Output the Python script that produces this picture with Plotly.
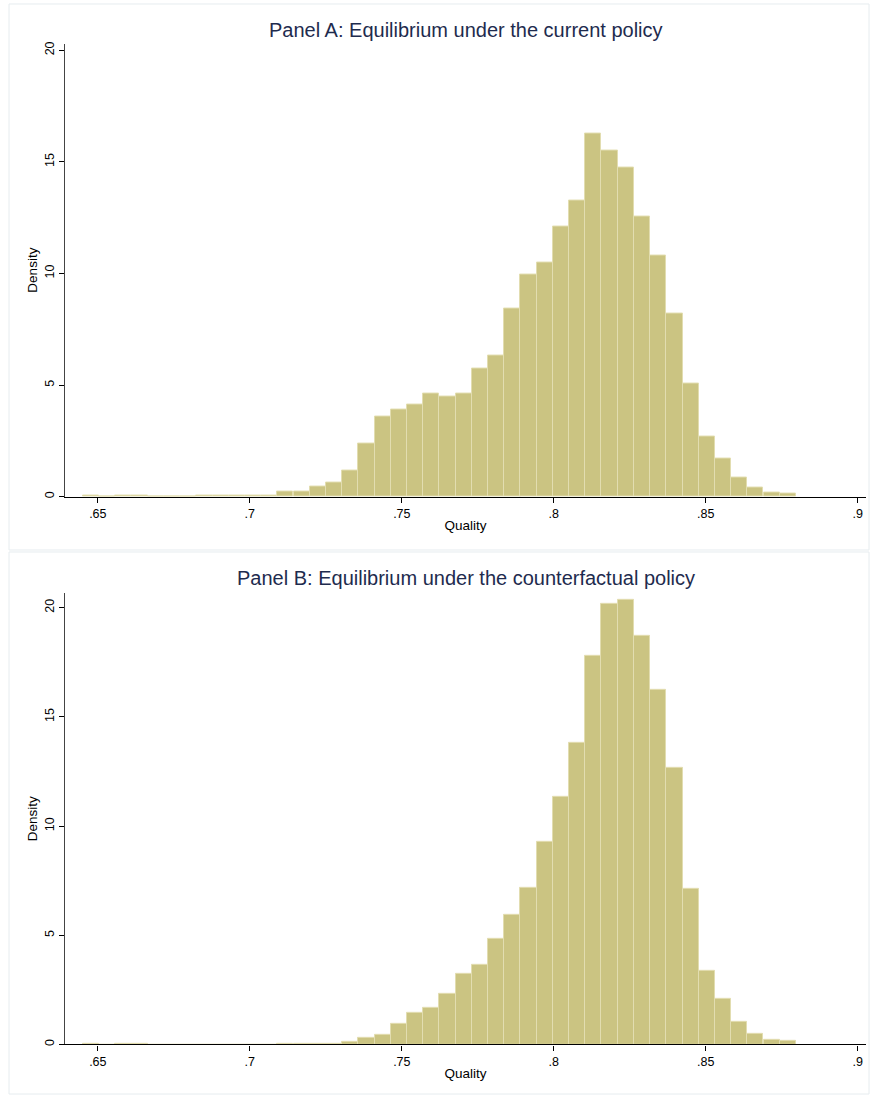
import plotly.graph_objects as go

# ---- data ----
bin_centers = [0.6478, 0.6531, 0.6584, 0.6637, 0.6691, 0.6744, 0.6797, 0.6851, 0.6904, 0.6957,
               0.7011, 0.7064, 0.7117, 0.7171, 0.7224, 0.7277, 0.7330, 0.7384, 0.7437, 0.7490,
               0.7544, 0.7597, 0.7650, 0.7704, 0.7757, 0.7810, 0.7864, 0.7917, 0.7970, 0.8023,
               0.8077, 0.8130, 0.8183, 0.8237, 0.8290, 0.8343, 0.8397, 0.8450, 0.8503, 0.8557,
               0.8610, 0.8663, 0.8717, 0.8770]
bin_width = 0.00533

density_current = [0.04, 0.0, 0.04, 0.04, 0.0, 0.0, 0.0, 0.04, 0.04, 0.05,
                   0.05, 0.05, 0.24, 0.24, 0.46, 0.64, 1.17, 2.38, 3.59, 3.89,
                   4.12, 4.64, 4.48, 4.61, 5.76, 6.34, 8.45, 9.96, 10.50, 12.10,
                   13.28, 16.26, 15.50, 14.74, 12.55, 10.81, 8.22, 5.09, 2.69, 1.71,
                   0.86, 0.40, 0.19, 0.13]

density_counterfactual = [0.03, 0.0, 0.03, 0.03, 0.0, 0.0, 0.0, 0.0, 0.0, 0.0,
                          0.0, 0.0, 0.03, 0.03, 0.05, 0.05, 0.14, 0.32, 0.46, 0.95,
                          1.45, 1.68, 2.32, 3.23, 3.64, 4.85, 5.94, 7.16, 9.26, 11.36,
                          13.80, 17.79, 20.18, 20.35, 18.72, 16.26, 12.68, 7.12, 3.38, 2.10,
                          1.04, 0.49, 0.21, 0.18]

x_tickvals = [0.65, 0.70, 0.75, 0.80, 0.85, 0.90]
x_ticktext = [".65", ".7", ".75", ".8", ".85", ".9"]
y_tickvals = [0, 5, 10, 15, 20]
y_ticktext = ["0", "5", "10", "15", "20"]

titles = ["Panel A: Equilibrium under the current policy",
          "Panel B: Equilibrium under the counterfactual policy"]
x_title = "Quality"
y_title = "Density"

# ---- layout geometry (pixels) ----
W, H = 870, 1097
def px_x(p):
    return p / W
def px_y(p):
    return 1 - p / H

BAR_FILL = "#cbc482"
BAR_LINE = "#e2ddb0"
FONT = "Liberation Sans, Arial, sans-serif"

fig = go.Figure()

fig.add_trace(go.Bar(x=bin_centers, y=density_current, width=bin_width,
                     marker=dict(color=BAR_FILL, line=dict(color=BAR_LINE, width=1)),
                     xaxis="x", yaxis="y", showlegend=False, hoverinfo="x+y"))
fig.add_trace(go.Bar(x=bin_centers, y=density_counterfactual, width=bin_width,
                     marker=dict(color=BAR_FILL, line=dict(color=BAR_LINE, width=1)),
                     xaxis="x2", yaxis="y2", showlegend=False, hoverinfo="x+y"))

x_range = [0.6392, 0.9027]

common_x = dict(range=x_range, tickvals=x_tickvals, ticktext=x_ticktext,
                showline=True, linecolor="#000000", linewidth=1.2,
                ticks="outside", ticklen=5, tickcolor="#000000", tickwidth=1,
                showgrid=False, zeroline=False,
                tickfont=dict(family=FONT, size=12.5, color="#000000"),
                title=dict(text=x_title, font=dict(family=FONT, size=13.5, color="#000000"), standoff=0))
common_y = dict(tickvals=y_tickvals, ticktext=y_ticktext, tickangle=-90,
                showline=True, linecolor="#444444", linewidth=1.2,
                ticks="outside", ticklen=5, tickcolor="#000000", tickwidth=1,
                showgrid=False, zeroline=False,
                tickfont=dict(family=FONT, size=12.5, color="#000000"),
                title=dict(text=y_title, font=dict(family=FONT, size=13.5, color="#000000"), standoff=2))

fig.update_layout(
    width=W, height=H,
    margin=dict(l=0, r=0, t=0, b=0),
    paper_bgcolor="white", plot_bgcolor="white",
    bargap=0,
    showlegend=False,
    xaxis=dict(domain=[px_x(65), px_x(866)], anchor="y", **common_x),
    yaxis=dict(domain=[px_y(496.5), px_y(41.7)], anchor="x", range=[0, 20.3], **common_y),
    xaxis2=dict(domain=[px_x(65), px_x(866)], anchor="y2", **common_x),
    yaxis2=dict(domain=[px_y(1046.3), px_y(593)], anchor="x2", range=[0, 20.68], **common_y),
)

# panel borders
fig.add_shape(type="rect", xref="paper", yref="paper",
              x0=px_x(9), x1=px_x(869), y0=px_y(550), y1=px_y(2),
              line=dict(color="#e6ecef", width=1), fillcolor="rgba(0,0,0,0)", layer="below")
fig.add_shape(type="rect", xref="paper", yref="paper",
              x0=px_x(9), x1=px_x(869), y0=px_y(1096), y1=px_y(552),
              line=dict(color="#e6ecef", width=1), fillcolor="rgba(0,0,0,0)", layer="below")

# panel titles
for t, yc in zip(titles, [28, 578]):
    fig.add_annotation(text=t, xref="paper", yref="paper",
                       x=px_x(466), y=px_y(yc), showarrow=False,
                       xanchor="center", yanchor="middle",
                       font=dict(family=FONT, size=20, color="#1e2b4e"))

fig.write_html("out.html")
